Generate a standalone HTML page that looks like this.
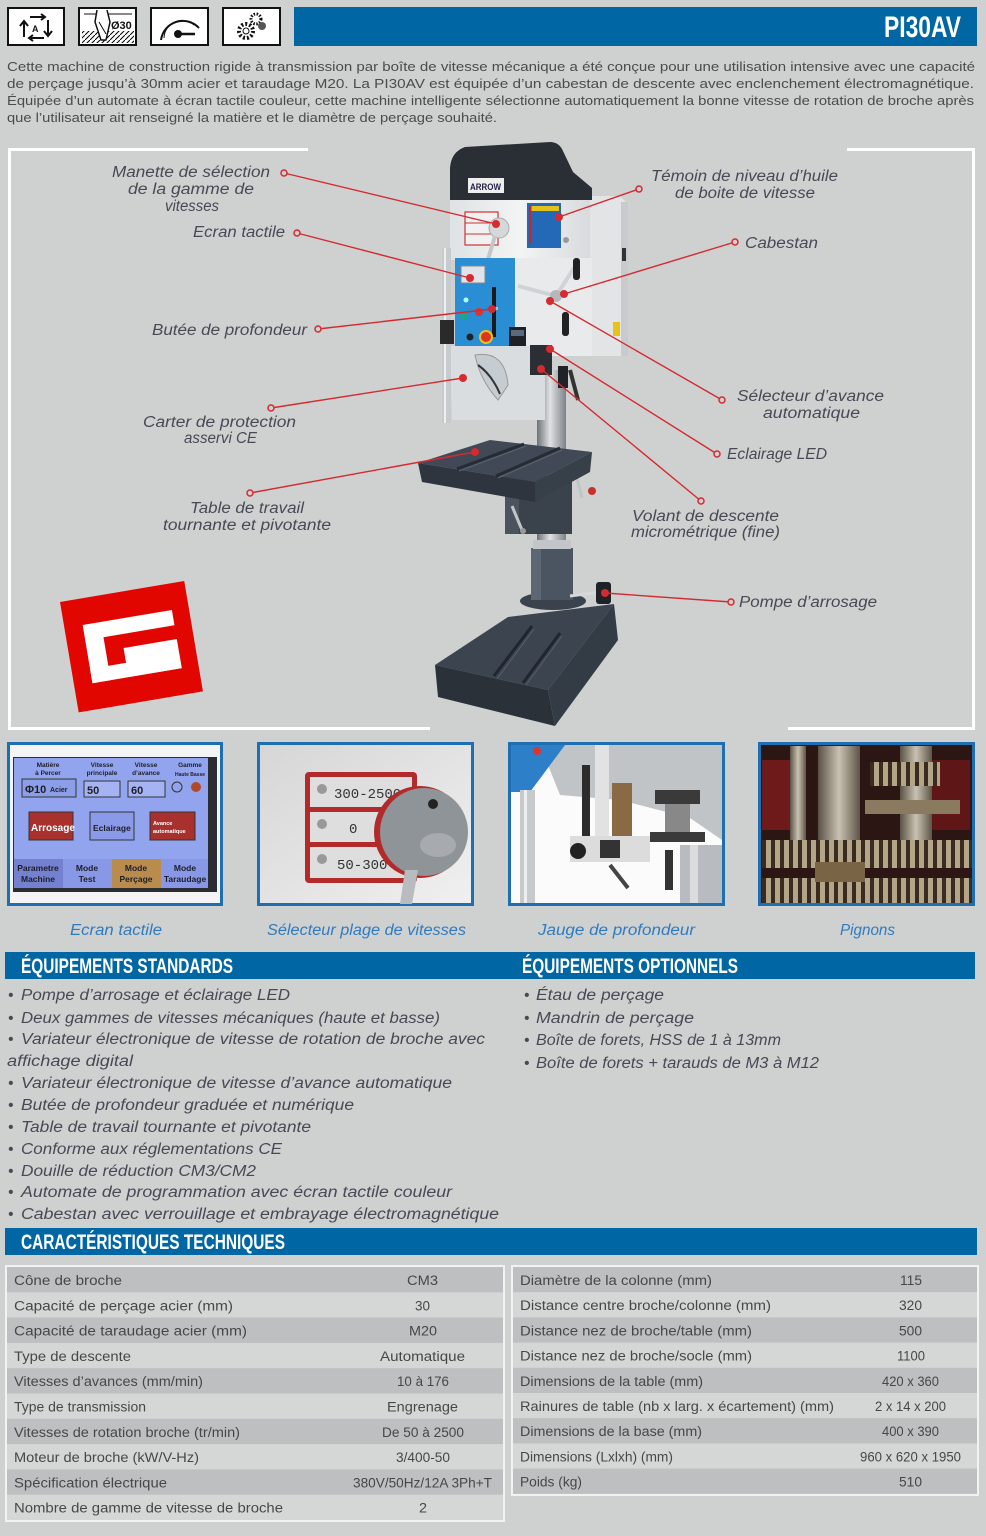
<!DOCTYPE html>
<html><head><meta charset="utf-8">
<style>
html,body{margin:0;padding:0;background:#cfd0d0;}
svg{display:block;}
.d{font-family:"Liberation Sans",sans-serif;font-size:13px;fill:#4b4b4b;}
.l{font-family:"Liberation Sans",sans-serif;font-style:italic;font-size:15.5px;fill:#474a55;}
.c{font-family:"Liberation Sans",sans-serif;font-style:italic;font-size:15.5px;fill:#2f7bc0;}
.h{font-family:"Liberation Sans Narrow","Liberation Sans",sans-serif;font-weight:bold;fill:#fff;}
.t{font-family:"Liberation Sans",sans-serif;font-size:13.5px;fill:#474747;}
.s{font-family:"Liberation Sans",sans-serif;font-weight:bold;fill:#1e1e28;}
</style></head><body>
<svg width="986" height="1536" viewBox="0 0 986 1536" xmlns="http://www.w3.org/2000/svg">
<defs>
<linearGradient id="col" x1="0" x2="1"><stop offset="0" stop-color="#6d7277"/><stop offset="0.45" stop-color="#e0e2e4"/><stop offset="1" stop-color="#7d8287"/></linearGradient>
<linearGradient id="headg" x1="0" x2="1"><stop offset="0" stop-color="#dfe2e4"/><stop offset="0.5" stop-color="#f3f4f4"/><stop offset="1" stop-color="#d8dbdd"/></linearGradient>
<linearGradient id="met" x1="0" x2="1"><stop offset="0" stop-color="#5a5246"/><stop offset="0.5" stop-color="#c9c2b2"/><stop offset="1" stop-color="#5e5548"/></linearGradient>
<linearGradient id="bg2" x1="0" x2="1" y1="0" y2="1"><stop offset="0" stop-color="#d6d6d6"/><stop offset="1" stop-color="#f0f0f0"/></linearGradient>
<pattern id="teeth" width="9" height="30" patternUnits="userSpaceOnUse"><rect width="9" height="30" fill="#3a2a20"/><rect x="1" width="5" height="30" fill="#b3a588"/></pattern>
<pattern id="hatch" width="5" height="5" patternUnits="userSpaceOnUse"><path d="M0,5 L5,0" stroke="#000" stroke-width="1"/></pattern>
</defs>
<rect width="986" height="1536" fill="#cfd0d0"/>

<!-- top icons -->
<g fill="#fff" stroke="#111" stroke-width="2">
<rect x="8" y="8" width="56" height="37"/>
<rect x="79" y="8" width="57" height="37"/>
<rect x="151" y="8" width="57" height="37"/>
<rect x="223" y="8" width="57" height="37"/>
</g>
<g stroke="#111" stroke-width="2" fill="none">
<path d="M24,37 L24,22 M20,26 L24,21 L28,26"/>
<path d="M48,20 L48,35 M44,31 L48,36 L52,31"/>
<path d="M30,17 L45,17 M41,14 L45,17 L41,20"/>
<path d="M44,38 L29,38 M33,35 L29,38 L33,41"/>
</g>
<text x="32" y="32" font-family="Liberation Sans" font-size="9" font-weight="bold" fill="#111">A</text>
<rect x="82" y="31" width="52" height="12" fill="url(#hatch)"/>
<path d="M84,14 L132,14" stroke="#111" stroke-width="1"/>
<path d="M97,10 L95,22 L101,40 L106,40 L110,22 L107,10" fill="#fff" stroke="#111" stroke-width="1.5"/>
<path d="M99,22 L106,34" stroke="#111" stroke-width="1"/>
<text x="111" y="29" font-family="Liberation Sans" font-size="11" font-weight="bold" fill="#111">Ø30</text>
<path d="M161,40 A22,22 0 0 1 199,28" fill="none" stroke="#111" stroke-width="2"/>
<path d="M164,38 A18,18 0 0 1 194,25" fill="none" stroke="#111" stroke-width="1"/>
<path d="M178,34 L195,34" stroke="#111" stroke-width="2.5"/>
<circle cx="178" cy="34" r="4" fill="#111"/>
<circle cx="246" cy="31" r="7" fill="none" stroke="#111" stroke-width="4" stroke-dasharray="2 2"/>
<circle cx="246" cy="31" r="3" fill="none" stroke="#111" stroke-width="1"/>
<circle cx="256" cy="19" r="5" fill="none" stroke="#111" stroke-width="3" stroke-dasharray="1.5 1.5"/>
<circle cx="262" cy="26" r="4" fill="#555"/>

<!-- title bar -->
<rect x="294" y="7" width="683" height="39" fill="#0067a4"/>
<text class="h" x="884" y="37" font-size="30" textLength="77" lengthAdjust="spacingAndGlyphs">PI30AV</text>

<!-- description -->
<text class="d" x="7" y="71" textLength="968" lengthAdjust="spacingAndGlyphs">Cette machine de construction rigide à transmission par boîte de vitesse mécanique a été conçue pour une utilisation intensive avec une capacité</text>
<text class="d" x="7" y="88" textLength="967" lengthAdjust="spacingAndGlyphs">de perçage jusqu’à 30mm acier et taraudage M20. La PI30AV est équipée d’un cabestan de descente avec enclenchement électromagnétique.</text>
<text class="d" x="7" y="105" textLength="967" lengthAdjust="spacingAndGlyphs">Équipée d’un automate à écran tactile couleur, cette machine intelligente sélectionne automatiquement la bonne vitesse de rotation de broche après</text>
<text class="d" x="7" y="122" textLength="490" lengthAdjust="spacingAndGlyphs">que l’utilisateur ait renseigné la matière et le diamètre de perçage souhaité.</text>

<!-- frame -->
<path d="M308,149.5 L9.5,149.5 L9.5,728.5 L430,728.5" fill="none" stroke="#fff" stroke-width="3"/>
<path d="M847,149.5 L973.5,149.5 L973.5,728.5 L788,728.5" fill="none" stroke="#fff" stroke-width="3"/>

<!-- machine -->
<g>
<rect x="537" y="370" width="29" height="235" fill="url(#col)"/>
<!-- base -->
<path d="M435,665 L508,617 L614,604 L548,690 Z" fill="#3b444f"/>
<path d="M435,665 L548,690 L555,726 L438,697 Z" fill="#2a3139"/>
<path d="M548,690 L614,604 L618,640 L555,726 Z" fill="#333b44"/>
<path d="M560,633 L523,683 M532,626 L494,676" stroke="#20262d" stroke-width="3"/>
<path d="M562,636 L526,685 M534,629 L497,679" stroke="#56606b" stroke-width="1"/>
<!-- collar -->
<ellipse cx="553" cy="601" rx="33" ry="9" fill="#3a434d"/>
<rect x="531" y="548" width="42" height="52" fill="#4b5561"/>
<rect x="531" y="548" width="10" height="52" fill="#5c6773"/>
<rect x="533" y="540" width="38" height="9" fill="#c3c6c9"/>
<!-- pump -->
<path d="M570,596 L600,592" stroke="#d6d8da" stroke-width="3"/>
<rect x="596" y="582" width="15" height="22" rx="3" fill="#1e2226"/>
<!-- table bracket -->
<rect x="505" y="476" width="67" height="58" fill="#3a424c"/>
<rect x="505" y="476" width="14" height="58" fill="#4a535e"/>
<path d="M512,506 L522,530" stroke="#c2c5c8" stroke-width="3"/>
<circle cx="523" cy="531" r="3" fill="#999"/>
<path d="M575,470 L582,498" stroke="#c2c5c8" stroke-width="3"/>
<circle cx="592" cy="491" r="4" fill="#c7302d"/>
<!-- table -->
<path d="M418,463 L490,440 L592,452 L535,482 Z" fill="#404955"/>
<path d="M418,463 L535,482 L535,502 L422,482 Z" fill="#2e353e"/>
<path d="M535,482 L592,452 L590,472 L535,502 Z" fill="#373f49"/>
<path d="M457,469 L524,444 M496,476 L560,448" stroke="#262c33" stroke-width="3"/>
<path d="M459,471 L526,446 M498,478 L562,450" stroke="#5a6470" stroke-width="1"/>
<!-- motor box right -->
<path d="M586,196 L620,196 L628,204 L628,356 L592,356 Z" fill="#e2e4e5"/>
<rect x="621" y="202" width="7" height="154" fill="#c8cbcd"/>
<rect x="622" y="248" width="4" height="13" fill="#333"/>
<rect x="613" y="322" width="7" height="14" fill="#e8c21a"/>
<!-- head upper -->
<rect x="450" y="196" width="140" height="64" fill="url(#headg)"/>
<rect x="527" y="203" width="34" height="45" fill="#2469b7"/>
<rect x="529" y="206" width="30" height="5" fill="#e3c21c"/>
<rect x="529" y="206" width="2.5" height="38" fill="#c62828"/>
<circle cx="566" cy="240" r="3" fill="#999"/>
<rect x="465" y="212" width="33" height="33" fill="#f1f1f1" stroke="#c33" stroke-width="1.2"/>
<path d="M465,223 L498,223 M465,234 L498,234" stroke="#c33" stroke-width="1"/>
<circle cx="499" cy="228" r="10" fill="#d5d7d9" stroke="#aaa"/>
<path d="M495,236 L483,276" stroke="#c4c7ca" stroke-width="4"/>
<!-- head middle -->
<rect x="512" y="258" width="80" height="98" fill="#e8eaeb"/>
<rect x="455" y="258" width="60" height="90" fill="#2a8ed5"/>
<rect x="461" y="266" width="24" height="17" fill="#dfe3ea" stroke="#888"/>
<rect x="492" y="287" width="4" height="50" fill="#1a1a1a"/>
<rect x="489" y="307" width="9" height="3" fill="#bbb"/>
<circle cx="466" cy="300" r="2.5" fill="#aff"/>
<circle cx="464" cy="316" r="4" fill="#19a784"/>
<circle cx="479" cy="312" r="4" fill="#d33"/>
<circle cx="470" cy="337" r="3.5" fill="#222"/>
<circle cx="486" cy="337" r="7" fill="#e8c31a"/>
<circle cx="486" cy="337" r="5" fill="#d32"/>
<rect x="509" y="327" width="17" height="22" fill="#1d2228"/>
<rect x="511" y="330" width="13" height="6" fill="#5a6a7a"/>
<!-- head lower -->
<path d="M450,346 L530,346 L545,360 L545,420 L452,420 Z" fill="#dadddf"/>
<path d="M475,355 Q505,350 508,385 L498,400 Q480,380 475,355 Z" fill="#c5ccd2" stroke="#999"/>
<path d="M478,365 Q492,375 500,394" stroke="#333" stroke-width="2" fill="none"/>
<rect x="530" y="345" width="22" height="30" fill="#2b2f35"/>
<!-- cabestan -->
<path d="M556,296 L518,286 M556,296 L574,268" stroke="#d0d3d5" stroke-width="4"/>
<circle cx="556" cy="296" r="6" fill="#b5b8bb"/>
<rect x="562" y="312" width="7" height="24" rx="3" fill="#222"/>
<rect x="573" y="258" width="7" height="22" rx="3" fill="#222"/>
<rect x="558" y="366" width="10" height="22" fill="#1f2328"/>
<path d="M570,370 L578,400" stroke="#333" stroke-width="4"/>
<!-- cap -->
<path d="M450,200 L450,168 Q451,152 465,147 L550,142 Q558,142 562,149 L573,172 L592,188 L592,200 Z" fill="#2a2e35"/>
<rect x="468" y="178" width="36" height="15" fill="#eee"/>
<text x="470" y="190" font-family="Liberation Sans" font-size="9" font-weight="bold" fill="#224" textLength="31" lengthAdjust="spacingAndGlyphs">ARROW</text>
<!-- left rod -->
<rect x="442" y="248" width="9" height="175" fill="#c8cbce"/>
<rect x="444" y="248" width="2" height="175" fill="#eceef0"/>
<rect x="440" y="320" width="14" height="24" fill="#2a2a2a"/>
</g>

<!-- connectors -->
<g stroke="#d42a30" stroke-width="1.4" fill="none">
<path d="M284,173 L496,224"/>
<path d="M297,233 L470,278"/>
<path d="M318,329 L492,309"/>
<path d="M271,408 L463,378"/>
<path d="M250,493 L475,452"/>
<path d="M639,189 L559,217"/>
<path d="M735,242 L564,294"/>
<path d="M722,400 L550,301"/>
<path d="M717,454 L550,349"/>
<path d="M701,501 L541,369"/>
<path d="M731,602 L605,593"/>
</g>
<g fill="#d42a30">
<circle cx="496" cy="224" r="4"/><circle cx="470" cy="278" r="4"/><circle cx="492" cy="309" r="4"/>
<circle cx="463" cy="378" r="4"/><circle cx="475" cy="452" r="4"/><circle cx="559" cy="217" r="4"/>
<circle cx="564" cy="294" r="4"/><circle cx="550" cy="301" r="4"/><circle cx="550" cy="349" r="4"/>
<circle cx="541" cy="369" r="4"/><circle cx="605" cy="593" r="4"/>
</g>
<g fill="#cfd0d0" stroke="#d42a30" stroke-width="1.5">
<circle cx="284" cy="173" r="3"/><circle cx="297" cy="233" r="3"/><circle cx="318" cy="329" r="3"/>
<circle cx="271" cy="408" r="3"/><circle cx="250" cy="493" r="3"/><circle cx="639" cy="189" r="3"/>
<circle cx="735" cy="242" r="3"/><circle cx="722" cy="400" r="3"/><circle cx="717" cy="454" r="3"/>
<circle cx="701" cy="501" r="3"/><circle cx="731" cy="602" r="3"/>
</g>

<!-- labels -->
<text class="l" x="112" y="177" textLength="158" lengthAdjust="spacingAndGlyphs">Manette de sélection</text>
<text class="l" x="128" y="194" textLength="126" lengthAdjust="spacingAndGlyphs">de la gamme de</text>
<text class="l" x="165" y="211" textLength="54" lengthAdjust="spacingAndGlyphs">vitesses</text>
<text class="l" x="193" y="237" textLength="92" lengthAdjust="spacingAndGlyphs">Ecran tactile</text>
<text class="l" x="152" y="335" textLength="155" lengthAdjust="spacingAndGlyphs">Butée de profondeur</text>
<text class="l" x="143" y="427" textLength="153" lengthAdjust="spacingAndGlyphs">Carter de protection</text>
<text class="l" x="184" y="443" textLength="73" lengthAdjust="spacingAndGlyphs">asservi CE</text>
<text class="l" x="190" y="513" textLength="114" lengthAdjust="spacingAndGlyphs">Table de travail</text>
<text class="l" x="163" y="530" textLength="168" lengthAdjust="spacingAndGlyphs">tournante et pivotante</text>
<text class="l" x="651" y="181" textLength="187" lengthAdjust="spacingAndGlyphs">Témoin de niveau d’huile</text>
<text class="l" x="675" y="198" textLength="140" lengthAdjust="spacingAndGlyphs">de boite de vitesse</text>
<text class="l" x="745" y="248" textLength="73" lengthAdjust="spacingAndGlyphs">Cabestan</text>
<text class="l" x="737" y="401" textLength="147" lengthAdjust="spacingAndGlyphs">Sélecteur d’avance</text>
<text class="l" x="763" y="418" textLength="97" lengthAdjust="spacingAndGlyphs">automatique</text>
<text class="l" x="727" y="459" textLength="100" lengthAdjust="spacingAndGlyphs">Eclairage LED</text>
<text class="l" x="632" y="521" textLength="147" lengthAdjust="spacingAndGlyphs">Volant de descente</text>
<text class="l" x="631" y="537" textLength="149" lengthAdjust="spacingAndGlyphs">micrométrique (fine)</text>
<text class="l" x="739" y="607" textLength="138" lengthAdjust="spacingAndGlyphs">Pompe d’arrosage</text>

<!-- logo -->
<g transform="translate(60,602) rotate(-9.6)">
<rect x="0" y="0" width="126" height="112" fill="#e10600"/>
<g fill="#fff">
<rect x="18.5" y="26.5" width="90.5" height="15.5"/>
<rect x="18.5" y="41" width="18.5" height="44.5"/>
<rect x="18.5" y="71" width="90.5" height="14.5"/>
<rect x="55" y="56" width="54" height="29.5"/>
</g>
</g>

<!-- thumbnail 1 -->
<rect x="8.5" y="743.5" width="213" height="161" fill="#f4f4f4" stroke="#1d6fb2" stroke-width="3"/>
<rect x="13" y="757" width="204" height="135" fill="#2c2c33"/>
<rect x="14" y="758" width="194" height="130" fill="#93a4ef"/>
<g class="s" font-size="6.5" text-anchor="middle">
<text x="48" y="767">Matière</text><text x="48" y="775">à Percer</text>
<text x="102" y="767">Vitesse</text><text x="102" y="775">principale</text>
<text x="146" y="767">Vitesse</text><text x="146" y="775">d’avance</text>
<text x="190" y="767">Gamme</text><text x="190" y="776" font-size="5">Haute  Basse</text>
</g>
<rect x="22" y="779" width="54" height="18" fill="#8d9ee8" stroke="#333"/>
<text class="s" x="25" y="793" font-size="11">Φ10</text><text class="s" x="50" y="792" font-size="7">Acier</text>
<rect x="84" y="781" width="36" height="16" fill="#a5b3f3" stroke="#333"/>
<text class="s" x="87" y="794" font-size="11" font-weight="normal">50</text>
<rect x="128" y="781" width="37" height="16" fill="#a5b3f3" stroke="#333"/>
<text class="s" x="131" y="794" font-size="11" font-weight="normal">60</text>
<circle cx="177" cy="787" r="5" fill="none" stroke="#333"/>
<circle cx="196" cy="787" r="5" fill="#b0482a"/>
<rect x="29" y="812" width="44" height="28" fill="#a8312e" stroke="#333"/>
<text x="31" y="831" font-family="Liberation Sans" font-weight="bold" font-size="10" fill="#fff">Arrosage</text>
<rect x="90" y="812" width="44" height="28" fill="#8a9ae8" stroke="#333"/>
<text class="s" x="93" y="831" font-size="8.5">Eclairage</text>
<rect x="150" y="812" width="45" height="28" fill="#a8312e" stroke="#333"/>
<text x="153" y="825" font-family="Liberation Sans" font-weight="bold" font-size="5.5" fill="#fff">Avance</text>
<text x="153" y="833" font-family="Liberation Sans" font-weight="bold" font-size="5.5" fill="#fff">automatique</text>
<rect x="14" y="859" width="49" height="29" fill="#7480d0"/>
<rect x="63" y="859" width="49" height="29" fill="#8898e6"/>
<rect x="112" y="859" width="49" height="29" fill="#b98c4e"/>
<rect x="161" y="859" width="47" height="29" fill="#8898e6"/>
<g class="s" font-size="8.5" text-anchor="middle" font-weight="normal">
<text x="38" y="871">Parametre</text><text x="38" y="882">Machine</text>
<text x="87" y="871">Mode</text><text x="87" y="882">Test</text>
<text x="136" y="871">Mode</text><text x="136" y="882">Perçage</text>
<text x="185" y="871">Mode</text><text x="185" y="882">Taraudage</text>
</g>

<!-- thumbnail 2 -->
<rect x="258.5" y="743.5" width="214" height="161" fill="url(#bg2)" stroke="#1d6fb2" stroke-width="3"/>
<rect x="305" y="772" width="112" height="111" rx="4" fill="#b32a2a"/>
<rect x="310" y="777" width="102" height="30" fill="#dedede"/>
<rect x="310" y="812" width="102" height="30" fill="#dedede"/>
<rect x="310" y="847" width="102" height="31" fill="#dedede"/>
<g fill="#999"><circle cx="322" cy="789" r="5"/><circle cx="322" cy="824" r="5"/><circle cx="322" cy="859" r="5"/></g>
<text x="334" y="798" font-family="Liberation Mono" font-size="14" fill="#333">300-2500</text>
<text x="349" y="833" font-family="Liberation Mono" font-size="14" fill="#333">0</text>
<text x="337" y="869" font-family="Liberation Mono" font-size="14" fill="#333">50-300</text>
<circle cx="420" cy="832" r="46" fill="#b32a2a"/>
<circle cx="424" cy="832" r="44" fill="#8f9498"/>
<path d="M405,870 L400,904 L412,904 L418,870 Z" fill="#b8bcbf"/>
<ellipse cx="438" cy="845" rx="18" ry="12" fill="#a7abaf"/>
<circle cx="433" cy="804" r="5" fill="#222"/>

<!-- thumbnail 3 -->
<rect x="509.5" y="743.5" width="214" height="161" fill="#fbfbfb" stroke="#1d6fb2" stroke-width="3"/>
<path d="M540,745 L722,745 L722,840 L690,818 L620,800 L560,795 Z" fill="#c0c4c7"/>
<path d="M511,745 L565,745 L530,792 L511,792 Z" fill="#2d7fc8"/>
<circle cx="537" cy="751" r="4" fill="#d33"/>
<rect x="520" y="790" width="15" height="113" fill="#c6cacd"/>
<rect x="524" y="790" width="3" height="113" fill="#eee"/>
<rect x="582" y="765" width="8" height="75" fill="#2c2c2c"/>
<rect x="595" y="745" width="14" height="95" fill="#e2e2e2"/>
<rect x="612" y="783" width="20" height="60" fill="#8a6a45"/>
<rect x="655" y="790" width="45" height="14" fill="#3a3a3a"/>
<rect x="665" y="804" width="25" height="30" fill="#888"/>
<rect x="650" y="832" width="55" height="10" fill="#3a3a3a"/>
<rect x="570" y="836" width="80" height="26" fill="#dcdcdc"/>
<circle cx="578" cy="851" r="8" fill="#222"/>
<rect x="600" y="840" width="20" height="18" fill="#333"/>
<path d="M610,865 L628,888" stroke="#444" stroke-width="4"/>
<rect x="680" y="845" width="42" height="58" fill="#b8bcc0"/>
<rect x="690" y="845" width="8" height="58" fill="#dadcde"/>
<rect x="665" y="850" width="8" height="40" fill="#333"/>

<!-- thumbnail 4 -->
<rect x="759.5" y="743.5" width="214" height="161" fill="#2b1614" stroke="#1d6fb2" stroke-width="3"/>
<rect x="762" y="760" width="40" height="70" fill="#6e1a1a"/>
<rect x="900" y="760" width="70" height="70" fill="#5e1616"/>
<rect x="790" y="746" width="16" height="100" fill="url(#met)"/>
<rect x="818" y="746" width="42" height="110" fill="url(#met)"/>
<rect x="900" y="746" width="32" height="120" fill="url(#met)"/>
<rect x="870" y="762" width="70" height="24" fill="url(#teeth)"/>
<rect x="865" y="800" width="95" height="14" fill="#8a7a60"/>
<rect x="762" y="840" width="210" height="28" fill="url(#teeth)"/>
<rect x="762" y="878" width="210" height="25" fill="url(#teeth)"/>
<rect x="815" y="862" width="50" height="20" fill="#7a6446"/>

<!-- captions -->
<text class="c" x="70" y="935" textLength="92" lengthAdjust="spacingAndGlyphs">Ecran tactile</text>
<text class="c" x="267" y="935" textLength="199" lengthAdjust="spacingAndGlyphs">Sélecteur plage de vitesses</text>
<text class="c" x="538" y="935" textLength="157" lengthAdjust="spacingAndGlyphs">Jauge de profondeur</text>
<text class="c" x="840" y="935" textLength="55" lengthAdjust="spacingAndGlyphs">Pignons</text>

<!-- equipment headers -->
<rect x="5" y="952" width="970" height="27" fill="#0067a4"/>
<text class="h" x="21" y="973" font-size="21" textLength="212" lengthAdjust="spacingAndGlyphs">ÉQUIPEMENTS STANDARDS</text>
<text class="h" x="522" y="973" font-size="21" textLength="216" lengthAdjust="spacingAndGlyphs">ÉQUIPEMENTS OPTIONNELS</text>

<!-- standard list -->
<g class="l" font-size="16">
<text x="8" y="1000">•</text><text x="21" y="1000" textLength="269" lengthAdjust="spacingAndGlyphs">Pompe d’arrosage et éclairage LED</text>
<text x="8" y="1023">•</text><text x="21" y="1023" textLength="419" lengthAdjust="spacingAndGlyphs">Deux gammes de vitesses mécaniques (haute et basse)</text>
<text x="8" y="1044">•</text><text x="21" y="1044" textLength="464" lengthAdjust="spacingAndGlyphs">Variateur électronique de vitesse de rotation de broche avec</text>
<text x="7" y="1066" textLength="126" lengthAdjust="spacingAndGlyphs">affichage digital</text>
<text x="8" y="1088">•</text><text x="21" y="1088" textLength="431" lengthAdjust="spacingAndGlyphs">Variateur électronique de vitesse d’avance automatique</text>
<text x="8" y="1110">•</text><text x="21" y="1110" textLength="333" lengthAdjust="spacingAndGlyphs">Butée de profondeur graduée et numérique</text>
<text x="8" y="1132">•</text><text x="21" y="1132" textLength="290" lengthAdjust="spacingAndGlyphs">Table de travail tournante et pivotante</text>
<text x="8" y="1154">•</text><text x="21" y="1154" textLength="261" lengthAdjust="spacingAndGlyphs">Conforme aux réglementations CE</text>
<text x="8" y="1176">•</text><text x="21" y="1176" textLength="235" lengthAdjust="spacingAndGlyphs">Douille de réduction CM3/CM2</text>
<text x="8" y="1197">•</text><text x="21" y="1197" textLength="431" lengthAdjust="spacingAndGlyphs">Automate de programmation avec écran tactile couleur</text>
<text x="8" y="1219">•</text><text x="21" y="1219" textLength="478" lengthAdjust="spacingAndGlyphs">Cabestan avec verrouillage et embrayage électromagnétique</text>
</g>
<g class="l" font-size="16">
<text x="524" y="1000">•</text><text x="536" y="1000" textLength="128" lengthAdjust="spacingAndGlyphs">Étau de perçage</text>
<text x="524" y="1023">•</text><text x="536" y="1023" textLength="158" lengthAdjust="spacingAndGlyphs">Mandrin de perçage</text>
<text x="524" y="1045">•</text><text x="536" y="1045" textLength="245" lengthAdjust="spacingAndGlyphs">Boîte de forets, HSS de 1 à 13mm</text>
<text x="524" y="1068">•</text><text x="536" y="1068" textLength="283" lengthAdjust="spacingAndGlyphs">Boîte de forets + tarauds de M3 à M12</text>
</g>

<!-- technical header -->
<rect x="5" y="1228" width="972" height="27" fill="#0067a4"/>
<text class="h" x="21" y="1249" font-size="21" textLength="264" lengthAdjust="spacingAndGlyphs">CARACTÉRISTIQUES TECHNIQUES</text>

<!-- left table -->
<g>
<rect x="7" y="1267" width="496" height="253" fill="#d5d6d6"/>
<g fill="#bebfc0">
<rect x="7" y="1267" width="496" height="25.3"/>
<rect x="7" y="1317.6" width="496" height="25.3"/>
<rect x="7" y="1368.2" width="496" height="25.3"/>
<rect x="7" y="1418.8" width="496" height="25.3"/>
<rect x="7" y="1469.4" width="496" height="25.3"/>
</g>
<rect x="6" y="1266" width="498" height="255" fill="none" stroke="#f2f2f2" stroke-width="2"/>
<g class="t">
<text x="14" y="1285" textLength="108" lengthAdjust="spacingAndGlyphs">Cône de broche</text>
<text x="14" y="1310.3" textLength="219" lengthAdjust="spacingAndGlyphs">Capacité de perçage acier (mm)</text>
<text x="14" y="1335.6" textLength="233" lengthAdjust="spacingAndGlyphs">Capacité de taraudage acier (mm)</text>
<text x="14" y="1360.9" textLength="117" lengthAdjust="spacingAndGlyphs">Type de descente</text>
<text x="14" y="1386.2" textLength="189" lengthAdjust="spacingAndGlyphs">Vitesses d’avances (mm/min)</text>
<text x="14" y="1411.5" textLength="132" lengthAdjust="spacingAndGlyphs">Type de transmission</text>
<text x="14" y="1436.8" textLength="226" lengthAdjust="spacingAndGlyphs">Vitesses de rotation broche (tr/min)</text>
<text x="14" y="1462.1" textLength="185" lengthAdjust="spacingAndGlyphs">Moteur de broche (kW/V-Hz)</text>
<text x="14" y="1487.4" textLength="153" lengthAdjust="spacingAndGlyphs">Spécification électrique</text>
<text x="14" y="1512.7" textLength="269" lengthAdjust="spacingAndGlyphs">Nombre de gamme de vitesse de broche</text>
<text x="407" y="1285" textLength="31" lengthAdjust="spacingAndGlyphs">CM3</text>
<text x="415" y="1310.3" textLength="15" lengthAdjust="spacingAndGlyphs">30</text>
<text x="409" y="1335.6" textLength="28" lengthAdjust="spacingAndGlyphs">M20</text>
<text x="380" y="1360.9" textLength="85" lengthAdjust="spacingAndGlyphs">Automatique</text>
<text x="397" y="1386.2" textLength="52" lengthAdjust="spacingAndGlyphs">10 à 176</text>
<text x="387" y="1411.5" textLength="71" lengthAdjust="spacingAndGlyphs">Engrenage</text>
<text x="382" y="1436.8" textLength="82" lengthAdjust="spacingAndGlyphs">De 50 à 2500</text>
<text x="396" y="1462.1" textLength="54" lengthAdjust="spacingAndGlyphs">3/400-50</text>
<text x="353" y="1487.4" textLength="139" lengthAdjust="spacingAndGlyphs">380V/50Hz/12A 3Ph+T</text>
<text x="419" y="1512.7" textLength="8" lengthAdjust="spacingAndGlyphs">2</text>
</g>
</g>

<!-- right table -->
<g>
<rect x="513" y="1267" width="464" height="227" fill="#d5d6d6"/>
<g fill="#bebfc0">
<rect x="513" y="1267" width="464" height="25.2"/>
<rect x="513" y="1317.4" width="464" height="25.2"/>
<rect x="513" y="1367.8" width="464" height="25.2"/>
<rect x="513" y="1418.2" width="464" height="25.2"/>
<rect x="513" y="1468.6" width="464" height="25.2"/>
</g>
<rect x="512" y="1266" width="466" height="229" fill="none" stroke="#f2f2f2" stroke-width="2"/>
<g class="t">
<text x="520" y="1285" textLength="192" lengthAdjust="spacingAndGlyphs">Diamètre de la colonne (mm)</text>
<text x="520" y="1310.2" textLength="251" lengthAdjust="spacingAndGlyphs">Distance centre broche/colonne (mm)</text>
<text x="520" y="1335.4" textLength="232" lengthAdjust="spacingAndGlyphs">Distance nez de broche/table (mm)</text>
<text x="520" y="1360.6" textLength="232" lengthAdjust="spacingAndGlyphs">Distance nez de broche/socle (mm)</text>
<text x="520" y="1385.8" textLength="183" lengthAdjust="spacingAndGlyphs">Dimensions de la table (mm)</text>
<text x="520" y="1411" textLength="314" lengthAdjust="spacingAndGlyphs">Rainures de table (nb x larg. x écartement) (mm)</text>
<text x="520" y="1436.2" textLength="182" lengthAdjust="spacingAndGlyphs">Dimensions de la base (mm)</text>
<text x="520" y="1461.4" textLength="153" lengthAdjust="spacingAndGlyphs">Dimensions (Lxlxh) (mm)</text>
<text x="520" y="1486.6" textLength="62" lengthAdjust="spacingAndGlyphs">Poids (kg)</text>
<text x="900" y="1285" textLength="22" lengthAdjust="spacingAndGlyphs">115</text>
<text x="899" y="1310.2" textLength="23" lengthAdjust="spacingAndGlyphs">320</text>
<text x="899" y="1335.4" textLength="23" lengthAdjust="spacingAndGlyphs">500</text>
<text x="897" y="1360.6" textLength="28" lengthAdjust="spacingAndGlyphs">1100</text>
<text x="882" y="1385.8" textLength="57" lengthAdjust="spacingAndGlyphs">420 x 360</text>
<text x="875" y="1411" textLength="71" lengthAdjust="spacingAndGlyphs">2 x 14 x 200</text>
<text x="882" y="1436.2" textLength="57" lengthAdjust="spacingAndGlyphs">400 x 390</text>
<text x="860" y="1461.4" textLength="101" lengthAdjust="spacingAndGlyphs">960 x 620 x 1950</text>
<text x="899" y="1486.6" textLength="23" lengthAdjust="spacingAndGlyphs">510</text>
</g>
</g>
</svg>
</body></html>
